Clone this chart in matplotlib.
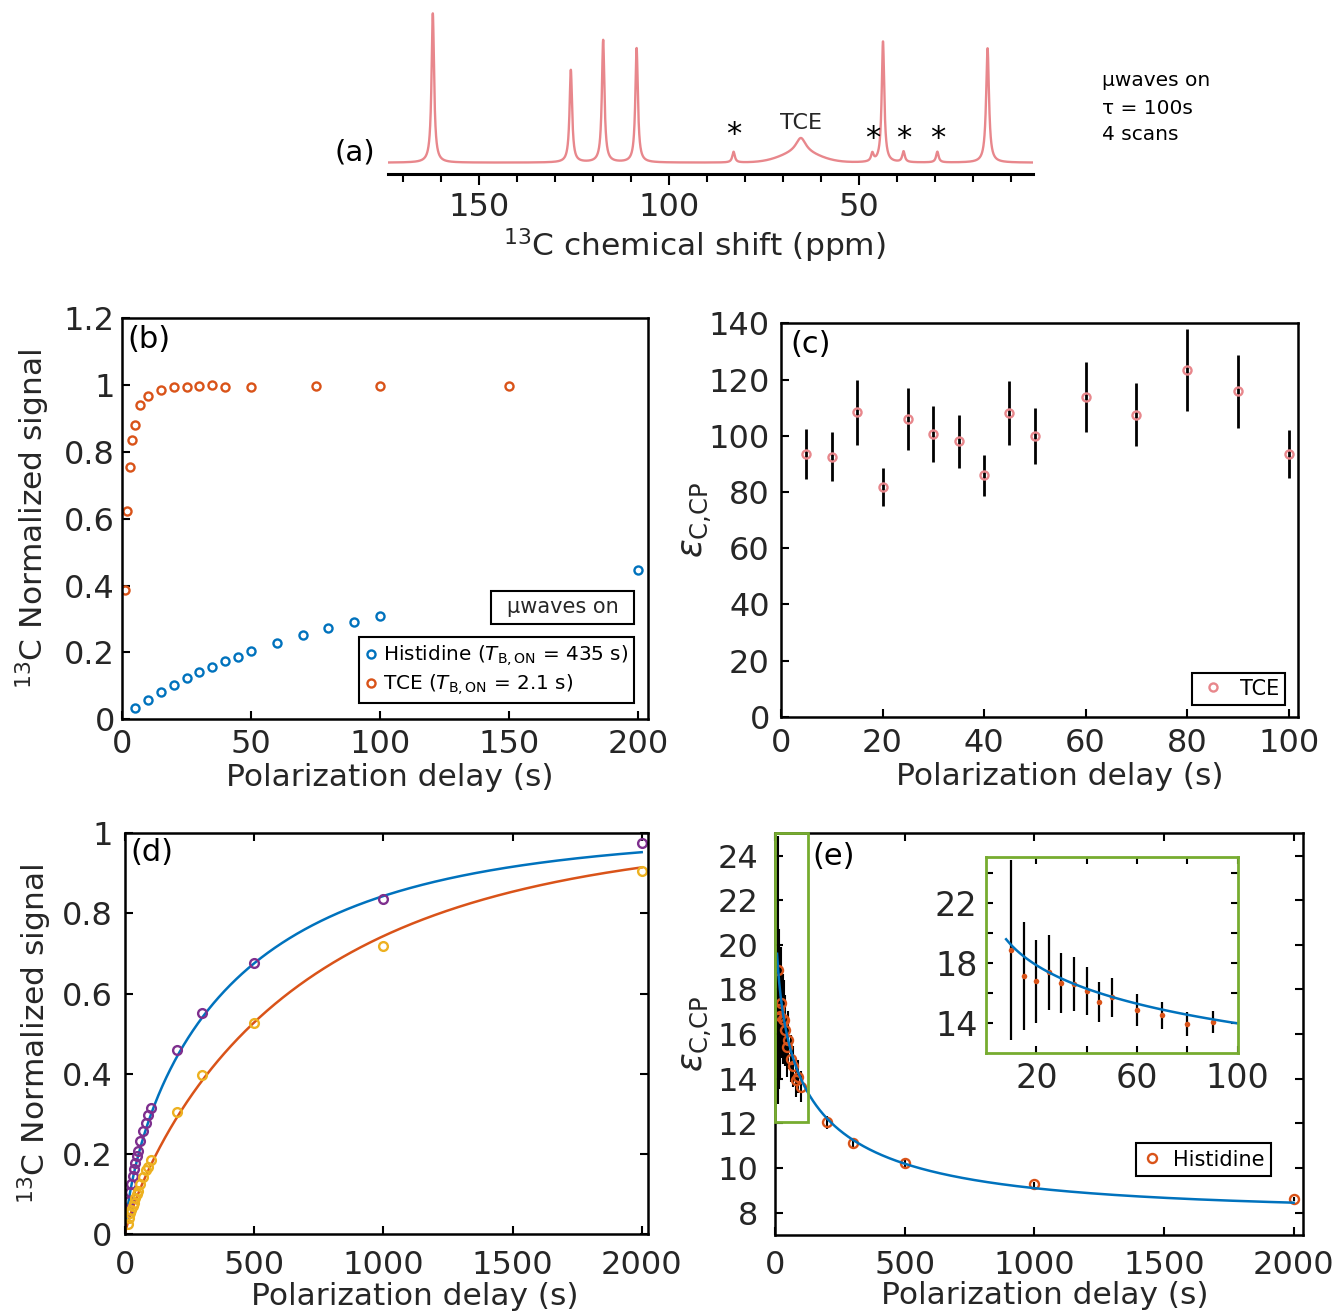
import numpy as np
import matplotlib
matplotlib.use("Agg")
import matplotlib.pyplot as plt
from matplotlib.patches import Rectangle

plt.rcParams['font.family'] = ['DejaVu Sans']
plt.rcParams['mathtext.fontset'] = 'dejavusans'

BLUE = '#0072BD'
ORANGE = '#D95319'
YELLOW = '#EDB120'
PURPLE = '#7E2F8E'
GREEN = '#77AC30'
PINK = '#E8878C'
TXT = '#262626'

# ---- (a) spectrum: peaks (ppm, relative height, half width)
peak_ppm = [162.1, 125.8, 117.3, 108.5, 83.0, 65.3, 46.5, 43.7, 38.3, 29.4, 16.2]
peak_height = [1.0, 0.62, 0.82, 0.766, 0.072, 0.10, 0.055, 0.81, 0.072, 0.072, 0.766]
peak_hwhm = [0.4, 0.4, 0.4, 0.4, 0.4, 1.6, 0.4, 0.4, 0.4, 0.4, 0.45]
tce_hump = (65.5, 5.0, 0.065)  # centre, sigma, height of the broad TCE foot
star_ppm = [83.0, 46.5, 38.3, 29.4]

# ---- (b) normalized build-up, microwaves on
his_t = [5, 10, 15, 20, 25, 30, 35, 40, 45, 50, 60, 70, 80, 90, 100, 200]
his_sig = [0.033, 0.057, 0.082, 0.102, 0.125, 0.143, 0.157, 0.174, 0.188, 0.203,
           0.228, 0.253, 0.274, 0.292, 0.309, 0.448]
tce_t = [1, 2, 3, 4, 5, 7, 10, 15, 20, 25, 30, 35, 40, 50, 75, 100, 150]
tce_sig = [0.388, 0.622, 0.756, 0.835, 0.881, 0.940, 0.969, 0.987, 0.994, 0.994,
           0.997, 1.001, 0.994, 0.994, 0.998, 0.998, 0.998]

# ---- (c) TCE enhancement
c_t = [5, 10, 15, 20, 25, 30, 35, 40, 45, 50, 60, 70, 80, 90, 100]
c_eps = [93.5, 92.6, 108.3, 81.8, 105.9, 100.5, 98.0, 86.0, 108.0, 100.0,
         113.8, 107.5, 123.3, 115.8, 93.5]
c_err = [8.9, 8.6, 11.7, 6.8, 11.0, 10.0, 9.4, 7.3, 11.4, 9.9, 12.5, 11.2, 14.6, 12.9, 8.6]

# ---- (d) histidine build-up, on / off
d_t = [10, 15, 20, 25, 30, 35, 40, 45, 50, 60, 70, 80, 90, 100, 200, 300, 500, 1000, 2000]
d_on = [0.059, 0.083, 0.105, 0.126, 0.145, 0.163, 0.179, 0.194, 0.208, 0.233, 0.258,
        0.278, 0.297, 0.316, 0.460, 0.551, 0.676, 0.837, 0.975]
d_off = [0.025, 0.040, 0.052, 0.060, 0.070, 0.079, 0.090, 0.100, 0.107, 0.126, 0.142,
         0.160, 0.169, 0.186, 0.306, 0.398, 0.528, 0.720, 0.905]
fit_on = (424.0, 0.72)    # T, stretch
fit_off = (698.0, 0.857)

# ---- (e) histidine enhancement
e_t = [10, 15, 20, 25, 30, 35, 40, 45, 50, 60, 70, 80, 90, 100, 200, 300, 500, 1000, 2000]
e_eps = [18.86, 17.13, 16.79, 17.41, 16.68, 16.62, 16.17, 15.42, 15.73, 14.89, 14.55,
         13.96, 14.09, 13.65, 12.04, 11.14, 10.21, 9.27, 8.61]
e_err = [6.0, 3.6, 2.75, 2.5, 2.0, 1.8, 1.6, 1.33, 1.3, 1.05, 0.9, 0.8, 0.75, 0.7,
         0.3, 0.2, 0.15, 0.12, 0.1]
fit_eps = (8.05, 16.0, 102.3, 0.44)  # eps_inf, amplitude, tau, stretch

TICK_FS = 23
LAB_FS = 22.5

fig = plt.figure(figsize=(13.42, 13.16), dpi=100)


def style(ax, mirror=False, ypad=6, xpad=8):
    for s in ax.spines.values():
        s.set_linewidth(1.8)
        s.set_color('black')
    ax.tick_params(direction='in', length=6, width=1.5, labelsize=TICK_FS,
                   labelcolor=TXT, top=mirror, right=mirror)
    ax.tick_params(axis='y', pad=ypad)
    ax.tick_params(axis='x', pad=xpad)


# ================= (a)
axa = fig.add_axes([0.2888, 0.8678, 0.4808, 0.1246])
ppm = np.arange(174.0, 4.3, -0.02)
spec = np.zeros_like(ppm)
for p0, h, w in zip(peak_ppm, peak_height, peak_hwhm):
    spec += h / (1 + ((ppm - p0) / w) ** 2)
spec += tce_hump[2] * np.exp(-0.5 * ((ppm - tce_hump[0]) / tce_hump[1]) ** 2)
axa.plot(ppm, spec, color=PINK, lw=1.7)
axa.set_xlim(174.0, 4.3)
axa.set_ylim(-0.0757, 1.0228)
for s in ['top', 'right', 'left']:
    axa.spines[s].set_visible(False)
axa.spines['bottom'].set_linewidth(2.2)
axa.set_yticks([])
axa.set_xticks([150, 100, 50])
axa.set_xticks(np.arange(170, 5, -10), minor=True)
axa.tick_params(axis='x', which='major', direction='out', length=8, width=1.5,
                labelsize=TICK_FS, labelcolor=TXT, pad=5)
axa.tick_params(axis='x', which='minor', direction='out', length=6, width=1.5)
axa.set_xlabel('$^{13}$C chemical shift (ppm)', fontsize=LAB_FS, color=TXT, va='center')
axa.xaxis.set_label_coords(0.475, -0.435)
for i, sp in enumerate(star_ppm):
    axa.text(sp, 0.19 if i == 0 else 0.165, '*', fontsize=22, ha='center', va='center')
axa.text(65.3, 0.265, 'TCE', fontsize=16, ha='center', va='center', color=TXT)
fig.text(355 / 1342, 1 - 152 / 1316, '(a)', fontsize=21, ha='center', va='center')
for txt, yy in zip(['µwaves on', 'τ = 100s', '4 scans'], [80, 108, 135]):
    fig.text(1102 / 1342, 1 - yy / 1316, txt, fontsize=14.5, ha='left', va='center')

# ================= (b)
axb = fig.add_axes([0.0909, 0.4534, 0.3916, 0.3047])
style(axb, ypad=5, xpad=7)
axb.plot(his_t, his_sig, 'o', mfc='none', mec=BLUE, ms=5.8, mew=1.7,
         label=r'Histidine ($T_{\mathrm{B,ON}}$ = 435 s)')
axb.plot(tce_t, tce_sig, 'o', mfc='none', mec=ORANGE, ms=5.8, mew=1.7,
         label=r'TCE ($T_{\mathrm{B,ON}}$ = 2.1 s)')
axb.set_xlim(0, 203.6)
axb.set_ylim(0, 1.2)
axb.set_xticks([0, 50, 100, 150, 200])
axb.set_yticks([0, 0.2, 0.4, 0.6, 0.8, 1.0, 1.2])
axb.set_yticklabels(['0', '0.2', '0.4', '0.6', '0.8', '1', '1.2'])
axb.set_xlabel('Polarization delay (s)', fontsize=LAB_FS, color=TXT, va='center')
axb.xaxis.set_label_coords(0.51, -0.144)
axb.set_ylabel('$^{13}$C Normalized signal', fontsize=LAB_FS, color=TXT, va='center')
axb.yaxis.set_label_coords(-0.17, 0.5)
axb.text(0.011, 0.983, '(b)', transform=axb.transAxes, fontsize=22, ha='left', va='top')
leg = axb.legend(loc='lower right', bbox_to_anchor=(0.9743, 0.0406), borderaxespad=0,
                 fontsize=14.4, frameon=True, fancybox=False, framealpha=1,
                 edgecolor='black', handlelength=0.6, handletextpad=0.3,
                 borderpad=0.3, labelspacing=0.2)
leg.get_frame().set_linewidth(1.5)
axb.add_patch(Rectangle((0.7022, 0.2377), 0.2721, 0.0823, transform=axb.transAxes,
                        fill=False, edgecolor='black', lw=1.5))
axb.text(0.838, 0.279, 'µwaves on', transform=axb.transAxes, fontsize=15,
         ha='center', va='center', color=TXT)

# ================= (c)
axc = fig.add_axes([0.582, 0.4554, 0.385, 0.2989])
style(axc, ypad=8, xpad=8)
axc.errorbar(c_t, c_eps, yerr=c_err, fmt='none', ecolor='black', elinewidth=2.0, capsize=0)
axc.plot(c_t, c_eps, 'o', mfc='none', mec=PINK, ms=5.8, mew=1.7, label='TCE')
axc.set_xlim(0, 101.8)
axc.set_ylim(0, 140)
axc.set_xticks([0, 20, 40, 60, 80, 100])
axc.set_yticks(np.arange(0, 141, 20))
axc.set_xlabel('Polarization delay (s)', fontsize=LAB_FS, color=TXT, va='center')
axc.xaxis.set_label_coords(0.54, -0.151)
axc.set_ylabel(r'$\varepsilon_{\mathrm{C{,}CP}}$', fontsize=25, color=TXT, va='center')
axc.yaxis.set_label_coords(-0.163, 0.5)
axc.text(0.019, 0.983, '(c)', transform=axc.transAxes, fontsize=22, ha='left', va='top')
leg = axc.legend(loc='lower right', bbox_to_anchor=(0.9756, 0.0297), borderaxespad=0,
                 fontsize=15, frameon=True, fancybox=False, framealpha=1,
                 edgecolor='black', handlelength=1.4, handletextpad=0.6, borderpad=0.3)
leg.get_frame().set_linewidth(1.5)

# ================= (d)
axd = fig.add_axes([0.0931, 0.0621, 0.3895, 0.3047])
style(axd, mirror=True, ypad=9, xpad=11)
tt = np.linspace(0, 2000, 800)
axd.plot(tt, 1 - np.exp(-(tt / fit_on[0]) ** fit_on[1]), color=BLUE, lw=1.8)
axd.plot(tt, 1 - np.exp(-(tt / fit_off[0]) ** fit_off[1]), color=ORANGE, lw=1.8)
axd.plot(d_t, d_on, 'o', mfc='none', mec=PURPLE, ms=6.3, mew=1.7)
axd.plot(d_t, d_off, 'o', mfc='none', mec=YELLOW, ms=6.3, mew=1.7)
axd.set_xlim(0, 2023)
axd.set_ylim(0, 1)
axd.set_xticks([0, 500, 1000, 1500, 2000])
axd.set_yticks([0, 0.2, 0.4, 0.6, 0.8, 1.0])
axd.set_yticklabels(['0', '0.2', '0.4', '0.6', '0.8', '1'])
axd.set_xlabel('Polarization delay (s)', fontsize=LAB_FS, color=TXT, va='center')
axd.xaxis.set_label_coords(0.555, -0.156)
axd.set_ylabel('$^{13}$C Normalized signal', fontsize=LAB_FS, color=TXT, va='center')
axd.yaxis.set_label_coords(-0.173, 0.5)
axd.text(0.011, 0.988, '(d)', transform=axd.transAxes, fontsize=22, ha='left', va='top')

# ================= (e)
axe = fig.add_axes([0.5775, 0.0616, 0.3934, 0.3052])
style(axe, mirror=True, ypad=12, xpad=11)
te = np.linspace(8, 2000, 1500)
eps_fit = fit_eps[0] + fit_eps[1] * np.exp(-(te / fit_eps[2]) ** fit_eps[3])
axe.errorbar(e_t, e_eps, yerr=e_err, fmt='none', ecolor='black', elinewidth=1.5, capsize=0)
axe.plot(e_t, e_eps, 'o', mfc='none', mec=ORANGE, ms=6.5, mew=1.7, label='Histidine')
axe.plot(te, eps_fit, color=BLUE, lw=1.8)
axe.add_patch(Rectangle((0, 12.08), 128.5, 12.92, fill=False, edgecolor=GREEN, lw=2,
                        clip_on=False, zorder=5))
axe.set_xlim(0, 2036)
axe.set_ylim(7, 25)
axe.set_xticks([0, 500, 1000, 1500, 2000])
axe.set_yticks(np.arange(8, 25, 2))
axe.set_xlabel('Polarization delay (s)', fontsize=LAB_FS, color=TXT, va='center')
axe.xaxis.set_label_coords(0.511, -0.152)
axe.set_ylabel(r'$\varepsilon_{\mathrm{C{,}CP}}$', fontsize=25, color=TXT, va='center')
axe.yaxis.set_label_coords(-0.148, 0.5)
axe.text(0.07, 0.978, '(e)', transform=axe.transAxes, fontsize=22, ha='left', va='top')
leg = axe.legend(loc='lower right', bbox_to_anchor=(0.9396, 0.1469), borderaxespad=0,
                 fontsize=15, frameon=True, fancybox=False, framealpha=1,
                 edgecolor='black', handlelength=1.0, handletextpad=0.5, borderpad=0.3)
leg.get_frame().set_linewidth(1.5)

# inset
axi = fig.add_axes([0.7347, 0.1996, 0.1876, 0.1494])
for s in axi.spines.values():
    s.set_linewidth(2)
    s.set_color(GREEN)
axi.tick_params(direction='in', length=5, width=1.5, labelsize=24, labelcolor=TXT,
                top=True, right=True, pad=6)
et = np.array(e_t)
m = et < 100
axi.errorbar(et[m], np.array(e_eps)[m], yerr=np.array(e_err)[m], fmt='none',
             ecolor='black', elinewidth=1.6, capsize=0)
axi.plot(et[m], np.array(e_eps)[m], 'o', color=ORANGE, ms=4, mew=0)
ti = te[te <= 100]
axi.plot(ti, fit_eps[0] + fit_eps[1] * np.exp(-(ti / fit_eps[2]) ** fit_eps[3]),
         color=BLUE, lw=1.8)
axi.set_xlim(0, 100)
axi.set_ylim(12, 25.1)
axi.set_xticks([20, 40, 60, 80, 100])
axi.set_xticklabels(['20', '', '60', '', '100'])
axi.set_yticks([14, 16, 18, 20, 22, 24])
axi.set_yticklabels(['14', '', '18', '', '22', ''])

fig.savefig('out.png', dpi=100)
